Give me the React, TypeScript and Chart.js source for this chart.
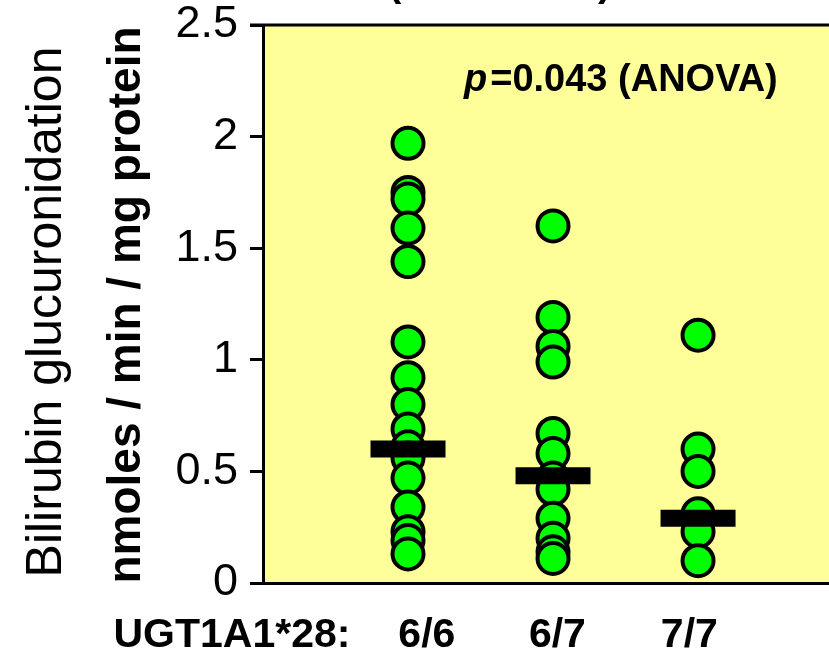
import React, { useEffect, useRef } from "react";
import { Chart, registerables } from "chart.js";

Chart.register(...registerables);

// ---- data ----
const groupLabels = ["6/6", "6/7", "7/7"];
const axisLabelPrefix = "UGT1A1*28:";
const groupX = [1, 2, 3];
const group66 = [1.97, 1.75, 1.72, 1.59, 1.44, 1.08, 0.92, 0.8, 0.69, 0.61, 0.56, 0.47, 0.34, 0.23, 0.19, 0.13];
const group67 = [1.6, 1.19, 1.06, 0.99, 0.67, 0.58, 0.47, 0.42, 0.29, 0.2, 0.14, 0.11];
const group77 = [1.11, 0.6, 0.5, 0.31, 0.23, 0.1];
const groupMeans = [0.6, 0.48, 0.29];
const yTicks = [0, 0.5, 1, 1.5, 2, 2.5];
const yTitle1 = "Bilirubin glucuronidation";
const yTitle2 = "nmoles / min / mg protein";
const pLabelItalic = "p";
const pLabelRest = "=0.043 (ANOVA)";

// label positions (data units on x)
const labelXPos = [1.13, 2.03, 2.94];
const prefixXPos = -0.214;

const FONT = "'Liberation Sans', Arial, Helvetica, sans-serif";

const decor = {
  id: "decor",
  beforeDraw(chart: any) {
    const { ctx, chartArea } = chart;
    const { left, top, right, bottom } = chartArea;
    ctx.save();
    ctx.fillStyle = "#FFFF99";
    ctx.fillRect(left, top, right - left, bottom - top);
    ctx.restore();
  },
  afterDraw(chart: any) {
    const { ctx, chartArea, scales } = chart;
    const { left, top, right } = chartArea;
    ctx.save();
    // top border
    ctx.strokeStyle = "#000";
    ctx.lineWidth = 3;
    ctx.beginPath();
    ctx.moveTo(left - 13, top);
    ctx.lineTo(right, top);
    ctx.stroke();

    ctx.fillStyle = "#000";
    // y titles
    ctx.save();
    ctx.translate(47, 312);
    ctx.rotate(-Math.PI / 2);
    ctx.textAlign = "center";
    ctx.textBaseline = "middle";
    ctx.font = `50px ${FONT}`;
    ctx.fillText(yTitle1, 0, 0);
    ctx.restore();

    ctx.save();
    ctx.translate(127, 305);
    ctx.rotate(-Math.PI / 2);
    ctx.textAlign = "center";
    ctx.textBaseline = "middle";
    ctx.font = `bold 46px ${FONT}`;
    ctx.fillText(yTitle2, 0, 0);
    ctx.restore();

    // x labels
    ctx.font = `bold 41px ${FONT}`;
    ctx.textAlign = "center";
    ctx.textBaseline = "alphabetic";
    const xs = scales.x;
    ctx.fillText(axisLabelPrefix, xs.getPixelForValue(prefixXPos), 647);
    groupLabels.forEach((l, i) => {
      ctx.fillText(l, xs.getPixelForValue(labelXPos[i]), 647);
    });

    // p-value annotation
    ctx.textAlign = "left";
    ctx.font = `italic bold 38px ${FONT}`;
    ctx.fillText(pLabelItalic, 464, 91);
    const pw = ctx.measureText(pLabelItalic).width;
    ctx.font = `bold 38px ${FONT}`;
    ctx.fillText(pLabelRest, 464 + pw + 3, 91);

    // clipped title (only bottom of parentheses visible)
    ctx.font = `bold 40px ${FONT}`;
    ctx.fillText("(", 388, -4);
    ctx.fillText(")", 598, -4);
    ctx.restore();
  },
};

export default function App() {
  const ref = useRef<HTMLCanvasElement>(null);
  useEffect(() => {
    if (!ref.current) return;
    const pts = [
      ...group66.map((y) => ({ x: groupX[0], y })),
      ...group67.map((y) => ({ x: groupX[1], y })),
      ...group77.map((y) => ({ x: groupX[2], y })),
    ];
    const means = groupMeans.map((y, i) => ({ x: groupX[i], y }));
    const chart = new Chart(ref.current, {
      type: "scatter",
      data: {
        datasets: [
          {
            label: "mean",
            data: means,
            pointStyle: "line",
            pointRadius: 37.5,
            pointHoverRadius: 37.5,
            borderWidth: 17,
            pointBorderWidth: 17,
            borderColor: "#000",
            backgroundColor: "#000",
            order: 0,
          },
          {
            label: "values",
            data: pts,
            pointStyle: "circle",
            pointRadius: 15.5,
            pointHoverRadius: 15.5,
            pointBorderWidth: 4,
            borderWidth: 4,
            borderColor: "#000",
            backgroundColor: "#00FF00",
            order: 1,
          },
        ],
      },
      options: {
        responsive: false,
        animation: false,
        events: [],
        layout: { autoPadding: false, padding: { left: 0, right: 0, top: 25, bottom: 0 } },
        plugins: { legend: { display: false }, tooltip: { enabled: false }, title: { display: false } },
        scales: {
          x: {
            type: "linear",
            min: 0,
            max: 3.903,
            grid: { display: false },
            ticks: { display: false },
            border: { display: true, color: "#000", width: 3 },
            afterFit(s: any) {
              s.height = 69;
              s.paddingLeft = 0;
              s.paddingRight = 0;
            },
          },
          y: {
            type: "linear",
            min: 0,
            max: 2.5,
            afterBuildTicks(s: any) {
              const t: any[] = [];
              for (let v = 0; v <= 2.5001; v += 0.25) t.push({ value: Math.round(v * 100) / 100 });
              s.ticks = t;
            },
            ticks: {
              color: "#000",
              padding: 12,
              font: { family: FONT, size: 45 },
              callback: (v: any) => (yTicks.includes(Number(v)) ? String(v) : ""),
            },
            grid: {
              drawOnChartArea: false,
              drawTicks: true,
              tickLength: 13,
              lineWidth: 3,
              color: "#000",
            },
            border: { display: true, color: "#000", width: 3 },
            afterFit(s: any) {
              s.width = 263;
              s.paddingTop = 0;
              s.paddingBottom = 0;
            },
          },
        },
      },
      plugins: [decor],
    });
    return () => chart.destroy();
  }, []);
  return (
    <div style={{ position: "fixed", left: 0, top: 0, width: 829, height: 652, background: "#fff" }}>
      <canvas ref={ref} width={829} height={652} style={{ display: "block" }} />
    </div>
  );
}
